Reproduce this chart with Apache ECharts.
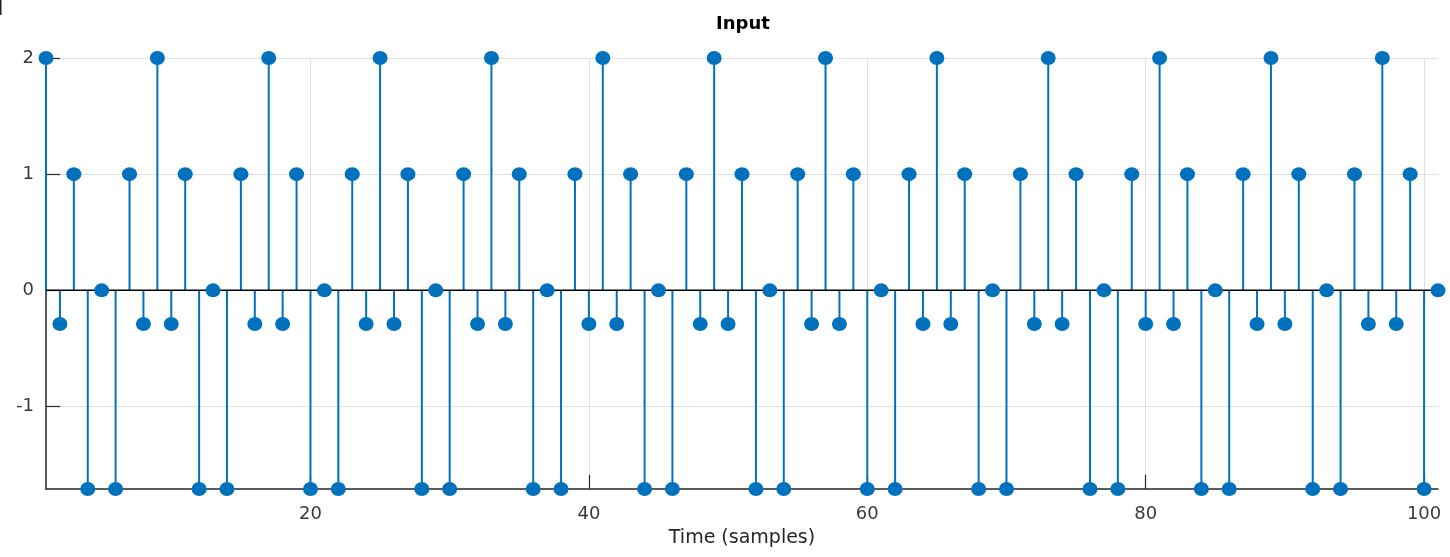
<!DOCTYPE html>
<html>
<head>
<meta charset="utf-8">
<title>Input</title>
<script src="https://cdn.jsdelivr.net/npm/echarts@6/dist/echarts.min.js"></script>
<style>
  html, body { margin: 0; padding: 0; background: #ffffff; }
  #chart { width: 1450px; height: 557px; }
</style>
</head>
<body>
<div id="chart"></div>
<script>
// Input signal, one value per sample (samples 1..101)
const inputValues = [
  2, -0.29, 1, -1.71, 0, -1.71, 1, -0.29,
  2, -0.29, 1, -1.71, 0, -1.71, 1, -0.29,
  2, -0.29, 1, -1.71, 0, -1.71, 1, -0.29,
  2, -0.29, 1, -1.71, 0, -1.71, 1, -0.29,
  2, -0.29, 1, -1.71, 0, -1.71, 1, -0.29,
  2, -0.29, 1, -1.71, 0, -1.71, 1, -0.29,
  2, -0.29, 1, -1.71, 0, -1.71, 1, -0.29,
  2, -0.29, 1, -1.71, 0, -1.71, 1, -0.29,
  2, -0.29, 1, -1.71, 0, -1.71, 1, -0.29,
  2, -0.29, 1, -1.71, 0, -1.71, 1, -0.29,
  2, -0.29, 1, -1.71, 0, -1.71, 1, -0.29,
  2, -0.29, 1, -1.71, 0, -1.71, 1, -0.29,
  2, -0.29, 1, -1.71, 0
];
const firstSample = 1;
const lastSample = 101;
const xTicks = [20, 40, 60, 80, 100];
const yTicks = [-1, 0, 1, 2];
const yMin = -1.71;
const yMax = 2;

const points = inputValues.map((v, i) => [firstSample + i, v]);

const STEM = '#0072BD';
const AXIS = '#262626';
const GRID = '#e0e0e0';
const FONT = 'DejaVu Sans';

const chart = echarts.init(document.getElementById('chart'), null, { renderer: 'canvas' });

chart.setOption({
  animation: false,
  backgroundColor: '#ffffff',
  title: {
    text: 'Input',
    left: 738,
    top: 10,
    textAlign: 'center',
    textStyle: { fontFamily: FONT, fontWeight: 'bold', fontSize: 18, color: '#000000' }
  },
  grid: { left: 46, right: 12, top: 58, bottom: 68, containLabel: false },
  xAxis: {
    type: 'value',
    min: firstSample,
    max: lastSample,
    name: 'Time (samples)',
    nameLocation: 'middle',
    nameGap: 40,
    nameTextStyle: { fontFamily: FONT, fontSize: 19, color: '#262626' },
    axisLine: { show: true, onZero: false, lineStyle: { color: AXIS, width: 1.5 } },
    axisTick: { show: true, inside: true, length: 14, customValues: xTicks, lineStyle: { color: AXIS, width: 1.2 } },
    axisLabel: { customValues: xTicks, margin: 16, fontFamily: FONT, fontSize: 18, color: '#3a3a3a' },
    splitLine: { show: true, lineStyle: { color: GRID, width: 1 } }
  },
  yAxis: {
    type: 'value',
    min: yMin,
    max: yMax,
    axisLine: { show: true, onZero: false, lineStyle: { color: AXIS, width: 1.5 } },
    axisTick: { show: true, inside: true, length: 14, customValues: yTicks, lineStyle: { color: AXIS, width: 1.2 } },
    axisLabel: { customValues: yTicks, margin: 12, fontFamily: FONT, fontSize: 18, color: '#3a3a3a' },
    splitLine: { show: true, lineStyle: { color: GRID, width: 1 } }
  },
  series: [
    {
      // stems from the zero baseline up/down to each sample value
      name: 'stems',
      type: 'custom',
      z: 2,
      data: points,
      encode: { x: 0, y: 1 },
      renderItem: function (params, api) {
        const x = api.value(0);
        const y = api.value(1);
        const p0 = api.coord([x, 0]);
        const p1 = api.coord([x, y]);
        return {
          type: 'line',
          shape: { x1: p0[0], y1: p0[1], x2: p1[0], y2: p1[1] },
          style: { stroke: STEM, lineWidth: 2 }
        };
      }
    },
    {
      // zero baseline across all samples
      name: 'baseline',
      type: 'line',
      z: 3,
      data: [[firstSample, 0], [lastSample, 0]],
      showSymbol: false,
      symbol: 'none',
      lineStyle: { color: '#000000', width: 1.5 },
      silent: true
    },
    {
      name: 'Input',
      type: 'scatter',
      z: 4,
      data: points,
      symbol: 'circle',
      symbolSize: [15, 14],
      itemStyle: { color: STEM, opacity: 1 }
    }
  ],
  graphic: [
    { type: 'rect', left: 0, top: 0, shape: { width: 1.5, height: 15 }, style: { fill: '#222222' } }
  ]
});
</script>
</body>
</html>
